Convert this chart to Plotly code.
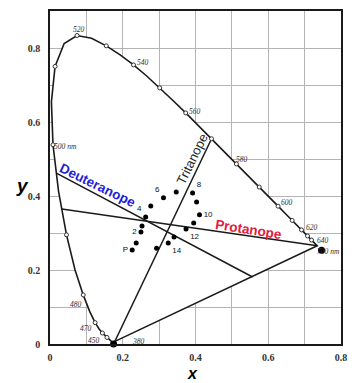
import plotly.graph_objects as go

# CIE 1931 2-degree spectral locus, 380-700 nm in 5 nm steps
wavelengths = list(range(380, 705, 5))
locus_x = [0.1741, 0.1740, 0.1738, 0.1736, 0.1733, 0.1730, 0.1726, 0.1721, 0.1714, 0.1703,
           0.1689, 0.1669, 0.1644, 0.1611, 0.1566, 0.1510, 0.1440, 0.1355, 0.1241, 0.1096,
           0.0913, 0.0687, 0.0454, 0.0235, 0.0082, 0.0039, 0.0139, 0.0389, 0.0743, 0.1142,
           0.1547, 0.1929, 0.2296, 0.2658, 0.3016, 0.3373, 0.3731, 0.4087, 0.4441, 0.4788,
           0.5125, 0.5448, 0.5752, 0.6029, 0.6270, 0.6482, 0.6658, 0.6801, 0.6915, 0.7006,
           0.7079, 0.7140, 0.7190, 0.7230, 0.7260, 0.7283, 0.7300, 0.7311, 0.7320, 0.7327,
           0.7334, 0.7340, 0.7344, 0.7346, 0.7347]
locus_y = [0.0050, 0.0050, 0.0049, 0.0049, 0.0048, 0.0048, 0.0048, 0.0048, 0.0051, 0.0058,
           0.0069, 0.0086, 0.0109, 0.0138, 0.0177, 0.0227, 0.0297, 0.0399, 0.0578, 0.0868,
           0.1327, 0.2007, 0.2950, 0.4127, 0.5384, 0.6548, 0.7502, 0.8120, 0.8338, 0.8262,
           0.8059, 0.7816, 0.7543, 0.7243, 0.6923, 0.6589, 0.6245, 0.5896, 0.5547, 0.5202,
           0.4866, 0.4544, 0.4242, 0.3965, 0.3725, 0.3514, 0.3340, 0.3197, 0.3083, 0.2993,
           0.2920, 0.2859, 0.2809, 0.2770, 0.2740, 0.2717, 0.2700, 0.2689, 0.2680, 0.2673,
           0.2666, 0.2660, 0.2656, 0.2654, 0.2653]

# wavelengths marked with open circles on the locus
marked_wl = list(range(450, 650, 10))

# wavelength labels
label_wl = [520, 540, 560, 580, 600, 620, 640, 700, 500, 480, 470, 450, 380]
label_txt = ["520", "540", "560", "580", "600", "620", "640", "700 nm", "500 nm",
             "480", "470", "450", "380"]

# copunctal points
tritan_point = (0.1748, 0.0)
protan_point = (0.7465, 0.2535)

# confusion lines (start, end)
deutan_line = [(0.0175, 0.462), (0.557, 0.181)]
protan_line = [(0.0324, 0.365), (0.7347, 0.2653)]
tritan_line = [(0.1748, 0.0), (0.4441, 0.5547)]

# D-15 cap chromaticities
cap_x = [0.226, 0.237, 0.250, 0.253, 0.263, 0.277, 0.312, 0.347,
         0.392, 0.403, 0.411, 0.395, 0.374, 0.341, 0.325, 0.293]
cap_y = [0.254, 0.273, 0.303, 0.319, 0.343, 0.373, 0.395, 0.411,
         0.408, 0.384, 0.349, 0.327, 0.311, 0.289, 0.273, 0.259]
cap_labels = ["P", "", "2", "", "4", "", "6", "", "8", "", "10", "", "12", "", "14", ""]
cap_textpos = ["middle left", "middle left", "middle left", "middle left", "top left",
               "top left", "top left", "top left", "top right", "top right", "middle right",
               "middle right", "bottom right", "bottom right", "bottom right", "bottom right"]

xy = dict(zip(wavelengths, zip(locus_x, locus_y)))

fig = go.Figure()

# white interior of the locus (hides the grid inside), closed by the purple line
fig.add_trace(go.Scatter(
    x=locus_x + [locus_x[0]], y=locus_y + [locus_y[0]],
    mode="lines", fill="toself", fillcolor="white",
    line=dict(color="#1a1a1a", width=1.6), hoverinfo="skip"))

for seg in (deutan_line, protan_line, tritan_line):
    fig.add_trace(go.Scatter(x=[p[0] for p in seg], y=[p[1] for p in seg], mode="lines",
                             line=dict(color="#1a1a1a", width=1.5), hoverinfo="skip"))

fig.add_trace(go.Scatter(
    x=[xy[w][0] for w in marked_wl], y=[xy[w][1] for w in marked_wl], mode="markers",
    marker=dict(symbol="circle", size=4, color="white", line=dict(color="#333", width=1))))

fig.add_trace(go.Scatter(
    x=[tritan_point[0], protan_point[0]], y=[tritan_point[1], protan_point[1]],
    mode="markers", marker=dict(size=7, color="black"), cliponaxis=False))

fig.add_trace(go.Scatter(
    x=cap_x, y=cap_y, mode="markers+text", text=cap_labels, textposition=cap_textpos,
    textfont=dict(family="Liberation Sans", size=8, color="#111"),
    marker=dict(size=5, color="black")))

# wavelength label offsets in pixels (right, up) from the locus point
offsets = {520: (2, 6), 540: (9, 2), 560: (9, 1), 580: (6, 4), 600: (9, 4), 620: (10, 2),
           640: (11, 0), 700: (11, -6), 500: (13, -2), 480: (-7, -10), 470: (-9, -6),
           450: (-13, -3), 380: (25, 1)}
ann = []
for w, t in zip(label_wl, label_txt):
    dx, dy = offsets[w]
    ann.append(dict(x=xy[w][0], y=xy[w][1], text=t, showarrow=False, xshift=dx, yshift=dy,
                    font=dict(family="Liberation Serif", size=7.5, color="#333", style="italic")))


def along(seg, f):
    (x0, y0), (x1, y1) = seg
    return x0 + (x1 - x0) * f, y0 + (y1 - y0) * f


px, py = along(deutan_line, 0.21)
ann.append(dict(x=px, y=py, text="<b>Deuteranope</b>", showarrow=False, textangle=26,
                xshift=0, yshift=9, font=dict(family="Liberation Sans", size=13.5, color="#1f1fd6")))
px, py = along(protan_line, 0.72)
ann.append(dict(x=px, y=py, text="<b>Protanope</b>", showarrow=False, textangle=9,
                xshift=3, yshift=6, font=dict(family="Liberation Sans", size=13.5, color="#e0203c")))
px, py = along(tritan_line, 0.90)
ann.append(dict(x=px, y=py, text="Tritanope", showarrow=False, textangle=-64,
                xshift=-10, yshift=0, font=dict(family="Liberation Sans", size=13, color="#222")))

ann.append(dict(x=0.49, y=-0.1165, xref="paper", yref="paper", text="<b><i>x</i></b>",
                xanchor="center", yanchor="bottom", borderpad=0, showarrow=False,
                font=dict(family="Liberation Sans", size=16, color="black")))
ann.append(dict(x=-0.094, y=0.476, xref="paper", yref="paper", text="<b><i>y</i></b>",
                xanchor="center", yanchor="middle", showarrow=False,
                font=dict(family="Liberation Sans", size=19, color="black")))

axis_common = dict(showline=True, linecolor="#1a1a1a", linewidth=1.6, mirror=True,
                   showgrid=True, gridcolor="#b4b4b4", gridwidth=1, zeroline=False,
                   ticks="", tickfont=dict(family="Liberation Serif", size=10, color="#333",
                                           weight="bold"))
fig.update_layout(
    width=356, height=383, margin=dict(l=50, r=9, t=10, b=39),
    paper_bgcolor="white", plot_bgcolor="white", showlegend=False,
    xaxis=dict(range=[0, 0.8], dtick=0.2, minor=dict(dtick=0.1, showgrid=True,
               gridcolor="#b4b4b4", gridwidth=1), ticklabelstandoff=3, **axis_common),
    yaxis=dict(range=[0, 0.9], dtick=0.2, minor=dict(dtick=0.1, showgrid=True,
               gridcolor="#b4b4b4", gridwidth=1), ticklabelstandoff=6, **axis_common),
    annotations=ann)

fig.write_html("out.html")
